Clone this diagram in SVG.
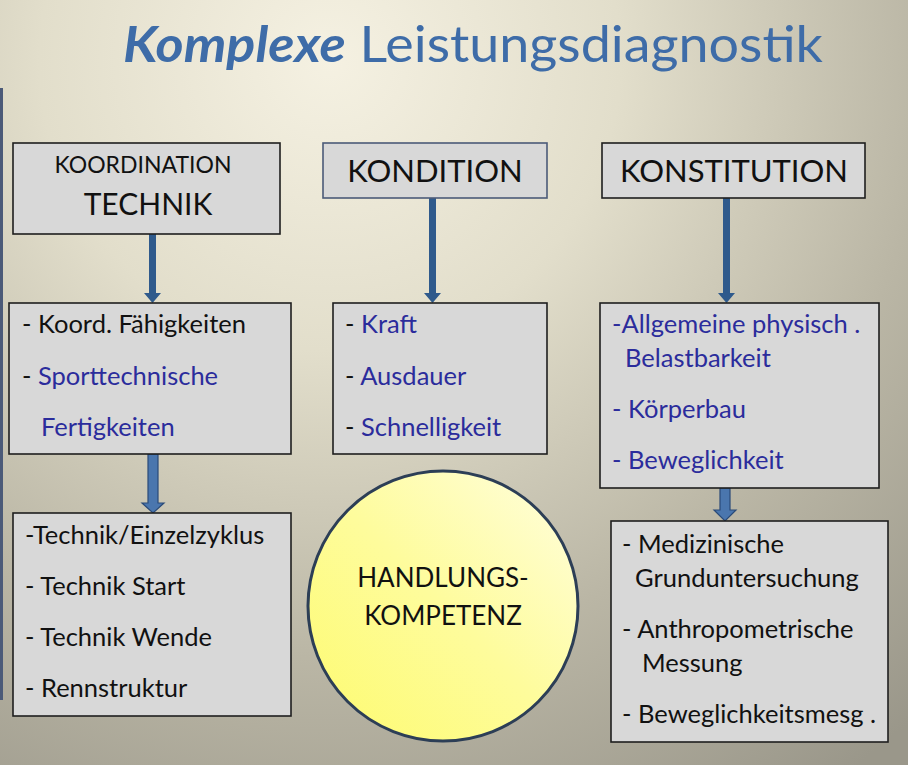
<svg xmlns="http://www.w3.org/2000/svg" width="908" height="765" viewBox="0 0 908 765">
<defs>
<radialGradient id="bg" cx="330" cy="60" r="880" gradientUnits="userSpaceOnUse">
<stop offset="0" stop-color="#f5f1e2"/>
<stop offset="0.33" stop-color="#e2decb"/>
<stop offset="0.68" stop-color="#bab6a5"/>
<stop offset="1" stop-color="#9a978a"/>
</radialGradient>
<linearGradient id="sun" x1="0" y1="1" x2="1" y2="0">
<stop offset="0" stop-color="#fdfb6e"/>
<stop offset="0.5" stop-color="#fefc9c"/>
<stop offset="1" stop-color="#fffee0"/>
</linearGradient>
<style>
.box{fill:#d8d8d8;stroke:#1e1e1e;stroke-width:1.6}
.t{font-family:Lato,"Open Sans","Liberation Sans",sans-serif;fill:#111}
.b{fill:#2b2c9c}
.li{font-size:25.5px}
.arr{fill:#2f5a8c}
.arr2{fill:#4a76ae;stroke:#2a4a78;stroke-width:1.2}
</style>
</defs>
<rect width="908" height="765" fill="url(#bg)"/>
<rect x="0" y="88" width="3" height="612" fill="#4b5a78"/>
<text x="123" y="62" font-family="Lato,'Open Sans','Liberation Sans',sans-serif" font-size="50" fill="#3e6ca8" textLength="700" lengthAdjust="spacingAndGlyphs"><tspan font-weight="bold" font-style="italic">Komplexe</tspan> Leistungsdiagnostik</text>

<g id="connectors">
<path class="arr" d="M149,234 H156 V293 H161 L152.5,303 L144,293 H149 Z"/>
<path class="arr" d="M429,198 H436 V293 H441 L432.5,303 L424,293 H429 Z"/>
<path class="arr" d="M723,198 H730 V293 H735 L726.5,303 L718,293 H723 Z"/>
<path class="arr2" d="M148,454 H158 V503 H164 L153,513 L142,503 H148 Z"/>
<path class="arr2" d="M720,488 H730 V510 H736 L725,521 L714,510 H720 Z"/>
</g>

<g id="koordination">
<rect class="box" x="13" y="143" width="267" height="91"/>
<text class="t" x="143" y="173" font-size="23" text-anchor="middle">KOORDINATION</text>
<text class="t" x="148" y="215" font-size="30" text-anchor="middle">TECHNIK</text>
</g>
<g id="kondition">
<rect class="box" x="323" y="143" width="224" height="55" style="stroke:#4b5a78"/>
<text class="t" x="435" y="182" font-size="31" text-anchor="middle">KONDITION</text>
</g>
<g id="konstitution">
<rect class="box" x="602" y="143" width="263" height="55"/>
<text class="t" x="734" y="182" font-size="31" text-anchor="middle">KONSTITUTION</text>
</g>

<g id="technik-list">
<rect class="box" x="9" y="303" width="282" height="151"/>
<text class="t li" x="22" y="333">- Koord. Fähigkeiten</text>
<text class="t li" x="22" y="385">- <tspan class="b">Sporttechnische</tspan></text>
<text class="t li b" x="41" y="436">Fertigkeiten</text>
</g>
<g id="kondition-list">
<rect class="box" x="333" y="303" width="214" height="151"/>
<text class="t li" x="345" y="333">- <tspan class="b">Kraft</tspan></text>
<text class="t li" x="345" y="385">- <tspan class="b">Ausdauer</tspan></text>
<text class="t li" x="345" y="436">- <tspan class="b">Schnelligkeit</tspan></text>
</g>
<g id="konstitution-list">
<rect class="box" x="600" y="303" width="279" height="185"/>
<text class="t li b" x="612" y="333">-Allgemeine physisch  .</text>
<text class="t li b" x="625" y="367">Belastbarkeit</text>
<text class="t li b" x="612" y="418">- Körperbau</text>
<text class="t li b" x="612" y="469">- Beweglichkeit</text>
</g>

<g id="technik-detail">
<rect class="box" x="13" y="513" width="278" height="203"/>
<text class="t li" x="25" y="544">-Technik/Einzelzyklus</text>
<text class="t li" x="25" y="595">- Technik Start</text>
<text class="t li" x="25" y="646">- Technik Wende</text>
<text class="t li" x="25" y="697">- Rennstruktur</text>
</g>
<g id="handlungskompetenz">
<circle cx="443" cy="606" r="135" fill="url(#sun)" stroke="#2c3e56" stroke-width="3"/>
<text class="t" x="443" y="587" font-size="26" text-anchor="middle">HANDLUNGS-</text>
<text class="t" x="443" y="625" font-size="26" text-anchor="middle">KOMPETENZ</text>
</g>
<g id="konstitution-detail">
<rect class="box" x="611" y="521" width="277" height="221"/>
<text class="t li" x="622" y="553">- Medizinische</text>
<text class="t li" x="635" y="587">Grunduntersuchung</text>
<text class="t li" x="622" y="638">- Anthropometrische</text>
<text class="t li" x="642" y="672">Messung</text>
<text class="t li" x="622" y="723">- Beweglichkeitsmesg .</text>
</g>
</svg>
